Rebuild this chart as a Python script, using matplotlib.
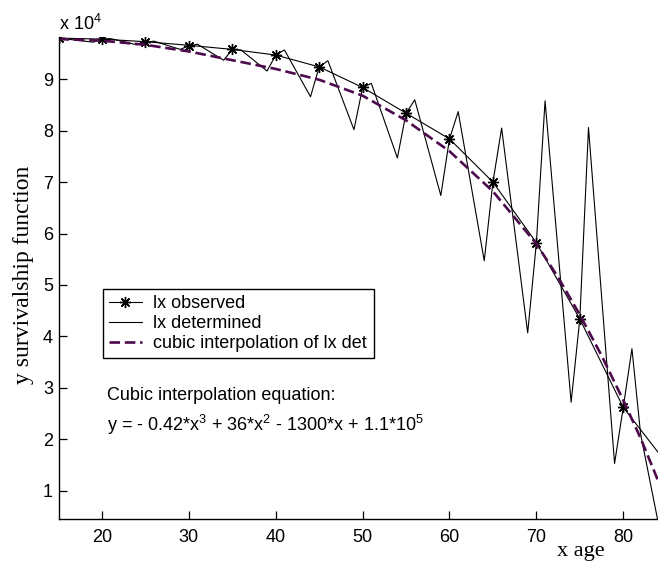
import matplotlib
matplotlib.use("Agg")
import matplotlib.pyplot as plt
from matplotlib.ticker import FuncFormatter

plt.rcParams['font.family'] = ['Liberation Sans', 'DejaVu Sans']
plt.rcParams['mathtext.fontset'] = 'custom'
plt.rcParams['mathtext.rm'] = 'Liberation Sans'
plt.rcParams['mathtext.it'] = 'Liberation Sans:italic'

# ---- data (values in persons) ----
obs_age = [15, 19, 20, 21, 24, 25, 26, 29, 30, 31, 34, 35, 36, 39, 40, 41,
           44, 45, 46, 49, 50, 51, 54, 55, 56, 59, 60, 61, 64, 65, 66, 69,
           70, 71, 74, 75, 76, 79, 80, 81, 82, 84]
obs_lx = [98000, 97200, 97800, 97900, 96700, 97200, 97400, 95800, 96500, 96800,
          93700, 95800, 95700, 91600, 94700, 95700, 86600, 92400, 93600, 80200,
          88400, 89200, 74700, 83400, 86000, 67400, 78400, 83700, 54700, 70000,
          80500, 40700, 58200, 85800, 27200, 43400, 80600, 15300, 26200, 37600,
          21000, 4000]

det_age = [15, 20, 25, 30, 35, 40, 45, 50, 55, 60, 65, 70, 75, 80, 84]
det_lx = [98000, 97800, 97300, 96600, 95800, 94700, 92400, 88400, 83400,
          78400, 70000, 58200, 43400, 26200, 17500]

cub_age = [15, 20, 25, 30, 35, 40, 45, 50, 55, 60, 65, 70, 72.5, 75, 77.5, 80, 82, 84]
cub_lx = [97800, 97500, 96700, 95400, 93700, 92000, 89900, 86800, 82000,
          76000, 68200, 58000, 51500, 44200, 36300, 27600, 20200, 12000]

labels = ['lx observed', 'lx determined', 'cubic interpolation of lx det']
x_ticks = [20, 30, 40, 50, 60, 70, 80]
y_ticks = [10000, 20000, 30000, 40000, 50000, 60000, 70000, 80000, 90000]

# ---- figure ----
fig = plt.figure(figsize=(6.58, 5.65), dpi=100)
ax = fig.add_axes([0.089, 0.0814, 0.911, 0.853])

marks = [i for i, a in enumerate(obs_age) if a % 5 == 0]
ax.plot(obs_age, obs_lx, color='black', lw=0.8, marker=(8, 2, 0),
        markersize=8, markeredgewidth=1.0, markevery=marks, label=labels[0])
ax.plot(det_age, det_lx, color='black', lw=0.8, label=labels[1])
ax.plot(cub_age, cub_lx, color='#4d0a4d', lw=1.9, linestyle=(0, (4.0, 1.8)),
        label=labels[2])

ax.set_xlim(15, 84)
ax.set_ylim(4500, 98200)
ax.set_xticks(x_ticks)
ax.set_yticks(y_ticks)
ax.yaxis.set_major_formatter(FuncFormatter(lambda v, p: f"{v/1e4:g}"))
ax.tick_params(direction='in', length=6, width=0.9, labelsize=13, colors='black')
ax.tick_params(axis='x', pad=7)
ax.tick_params(axis='y', pad=4)
for s in ['top', 'right']:
    ax.spines[s].set_visible(False)
for s in ['left', 'bottom']:
    ax.spines[s].set_linewidth(1.0)

ax.text(0.0, 1.0 + 7/482, r'x 10$^4$', transform=ax.transAxes, ha='left',
        va='baseline', fontsize=13)

ax.set_ylabel('y survivalship function', family='Liberation Serif', fontsize=17)
ax.yaxis.set_label_coords(-0.041, 0.506)
ax.set_xlabel('x age', family='Liberation Serif', fontsize=16)
ax.xaxis.label.set_va('baseline')
ax.xaxis.set_label_coords(0.871, -0.077)

leg = ax.legend(loc='upper left', bbox_to_anchor=(0.074, 0.477),
                borderaxespad=0, fontsize=13, frameon=True, fancybox=False,
                edgecolor='black', framealpha=1, handlelength=1.8,
                handletextpad=0.65, borderpad=0.35, labelspacing=0.15)
leg.get_frame().set_linewidth(1.0)

ax.text(0.0807, 0.257, 'Cubic interpolation equation:', transform=ax.transAxes,
        ha='left', va='center', fontsize=13)
ax.text(0.0807, 0.195, r'y = - 0.42*x$^3$ + 36*x$^2$ - 1300*x + 1.1*10$^5$',
        transform=ax.transAxes, ha='left', va='center', fontsize=13)

fig.savefig('out.png', dpi=100)
